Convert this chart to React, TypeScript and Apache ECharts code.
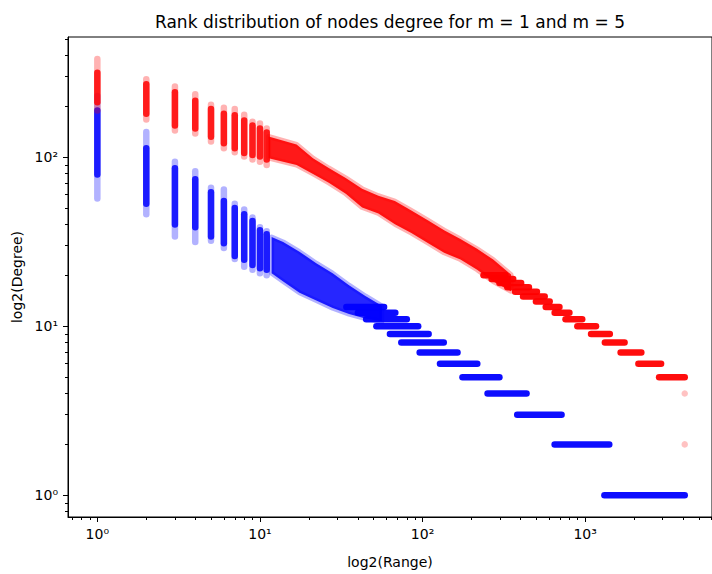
import React, { useEffect, useRef } from "react";
import * as echarts from "echarts";

const titleText = "Rank distribution of nodes degree for m = 1 and m = 5";
const xName = "log2(Range)";
const yName = "log2(Degree)";

const X_MIN = 0.66;
const X_MAX = 6026;
const Y_MIN = 0.744;
const Y_MAX = 514;

const xMajorTicks = [1, 10, 100, 1000];
const xMinorTicks = [0.7, 0.8, 0.9, 2, 3, 4, 5, 6, 7, 8, 9, 20, 30, 40, 50, 60, 70, 80, 90, 200, 300, 400, 500, 600, 700, 800, 900, 2000, 3000, 4000, 5000, 6000];
const yMajorTicks = [1, 10, 100];
const yMinorTicks = [0.8, 0.9, 2, 3, 4, 5, 6, 7, 8, 9, 20, 30, 40, 50, 60, 70, 80, 90, 200, 300, 400, 500];

// vertical streaks at low ranks: [rank, outerLo, coreLo, coreHi, outerHi]
const redStreaks = [
  [1, 189, 211, 316, 381],
  [2, 167, 181, 270, 289],
  [3, 144, 154, 242, 262],
  [4, 138, 148, 216, 236],
  [5, 124, 132, 193, 204],
  [6, 113, 121, 181, 196],
  [7, 107, 113, 177, 193],
  [8, 101, 106, 165, 178],
  [9, 97, 103, 154, 162],
  [10, 94, 101, 148, 158],
  [11, 90, 97, 140, 148],
];
const blueStreaks = [
  [1, 57, 79, 189, 230],
  [2, 46, 53, 113, 141],
  [3, 34, 40, 86, 94],
  [4, 31.5, 38.5, 74, 82.5],
  [5, 32, 34, 62, 66],
  [6, 29, 31, 55, 64.5],
  [7, 25, 26, 50, 53],
  [8, 22.5, 24.7, 46, 49],
  [9, 21.6, 23, 42, 44],
  [10, 20.6, 22, 37, 38.5],
  [11, 20, 21.6, 35, 36.5],
];

// dense band in the middle ranks
const redBandRanks = [11.3, 16.8, 21.2, 26.5, 33.7, 42.5, 53.5, 67.6, 85.3, 107.7, 135.7, 171, 216.5, 272, 350];
const redBandTop = [132.6, 119, 98.7, 86.3, 75.4, 65.1, 59.2, 55, 48.4, 42.4, 37.0, 32.8, 28.7, 24.8, 20.2];
const redBandBottom = [98.7, 89.8, 79.6, 70.5, 60.8, 50.4, 46.5, 40.1, 35.6, 31.1, 27.2, 24.8, 21.6, 18.4, 16.1];

const blueBandRanks = [11.8, 13.9, 17.5, 22.2, 28.0, 35.3, 44.5, 56.2];
const blueBandTop = [33.7, 31.5, 27.6, 23.6, 20.6, 17.5, 15.1, 13.2];
const blueBandBottom = [20.6, 18.4, 15.8, 14.2, 12.8, 11.8, 11.1, 10.7];

// integer-degree plateaus: [degree, rankFrom, rankTo]
const redSteps = [
  [20, 237, 323], [19, 266, 361], [18, 297, 404], [17, 332, 451], [16, 371, 505], [15, 415, 564],
  [14, 498, 605], [13, 572, 695], [12, 649, 800], [11, 757, 959], [10, 895, 1166],
  [9, 1087, 1418], [8, 1322, 1747], [7, 1652, 2215], [6, 2125, 2930], [5, 2849, 4096],
];
const blueSteps = [
  [13, 34, 58], [12, 40, 68], [11, 45, 80], [10, 52, 94], [9, 63, 109], [8, 74, 135],
  [7, 96, 164], [6, 128, 217], [5, 176, 297], [4, 251, 436], [3, 382, 716],
  [2, 649, 1407], [1, 1313, 4096],
];
const redOutliers = [[4096, 4], [4096, 2]];

const FONT = "DejaVu Sans";
const DOT = 6.5;
const SUP = ["⁰", "¹", "²", "³", "⁴"];

function fmt(v: number) {
  const e = Math.round(Math.log10(v));
  return "10" + (SUP[e] ?? "");
}

function streakSeries(data: number[][], faint: string, solid: string) {
  return {
    type: "custom",
    data,
    silent: true,
    encode: { x: 0, y: [1, 2, 3, 4] },
    renderItem: (params: any, api: any) => {
      const r = api.value(0);
      const a = api.coord([r, api.value(1)]);
      const b = api.coord([r, api.value(2)]);
      const c = api.coord([r, api.value(3)]);
      const d = api.coord([r, api.value(4)]);
      return {
        type: "group",
        children: [
          { type: "line", shape: { x1: a[0], y1: a[1], x2: d[0], y2: d[1] }, style: { stroke: faint, lineWidth: DOT, lineCap: "round" } },
          { type: "line", shape: { x1: b[0], y1: b[1], x2: c[0], y2: c[1] }, style: { stroke: solid, lineWidth: DOT, lineCap: "round" } },
        ],
      };
    },
  };
}

function stepSeries(data: number[][], color: string) {
  return {
    type: "custom",
    data,
    silent: true,
    encode: { x: [1, 2], y: 0 },
    renderItem: (params: any, api: any) => {
      const dgr = api.value(0);
      const a = api.coord([api.value(1), dgr]);
      const b = api.coord([api.value(2), dgr]);
      return { type: "line", shape: { x1: a[0], y1: a[1], x2: b[0], y2: b[1] }, style: { stroke: color, lineWidth: DOT, lineCap: "round" } };
    },
  };
}

function bandSeries(ranks: number[], top: number[], bottom: number[], fill: string, edge: string) {
  return {
    type: "custom",
    data: [[ranks[0], top[0]]],
    silent: true,
    renderItem: (params: any, api: any) => {
      const pts: number[][] = [];
      for (let i = 0; i < ranks.length; i++) pts.push(api.coord([ranks[i], top[i]]));
      for (let i = ranks.length - 1; i >= 0; i--) pts.push(api.coord([ranks[i], bottom[i]]));
      return { type: "polygon", shape: { points: pts }, style: { fill, stroke: edge, lineWidth: 5, lineJoin: "round" } };
    },
  };
}

function axisCommon(min: number, max: number) {
  return { type: "log", logBase: 10, min, max, splitLine: { show: false }, minorTick: { show: false } };
}

export default function App() {
  const ref = useRef<HTMLDivElement>(null);
  useEffect(() => {
    if (!ref.current) return;
    const chart = echarts.init(ref.current, null, { renderer: "svg" });
    const labelStyle = { fontFamily: FONT, fontSize: 14, color: "#000" };
    chart.setOption({
      animation: false,
      backgroundColor: "#fff",
      title: {
        text: titleText,
        left: 155,
        top: 13,
        padding: 0,
        textStyle: { fontFamily: FONT, fontSize: 17, fontWeight: "normal", color: "#000" },
      },
      grid: { left: 68, top: 37, width: 654, height: 487, show: true, borderColor: "#000", borderWidth: 1, backgroundColor: "transparent" },
      xAxis: [
        {
          ...axisCommon(X_MIN, X_MAX),
          position: "bottom",
          axisLine: { show: true, lineStyle: { color: "#000", width: 1 } },
          axisTick: { show: true, length: 5, customValues: xMajorTicks, lineStyle: { color: "#000" } },
          axisLabel: { show: true, customValues: xMajorTicks, formatter: fmt, margin: 10, ...labelStyle },
          name: xName,
          nameLocation: "middle",
          nameGap: 38,
          nameTextStyle: labelStyle,
        },
        {
          ...axisCommon(X_MIN, X_MAX),
          position: "bottom",
          axisLine: { show: false },
          axisTick: { show: true, length: 3, customValues: xMinorTicks, lineStyle: { color: "#000" } },
          axisLabel: { show: false },
        },
      ],
      yAxis: [
        {
          ...axisCommon(Y_MIN, Y_MAX),
          position: "left",
          axisLine: { show: true, lineStyle: { color: "#000", width: 1 } },
          axisTick: { show: true, length: 5, customValues: yMajorTicks, lineStyle: { color: "#000" } },
          axisLabel: { show: true, customValues: yMajorTicks, formatter: fmt, margin: 10, ...labelStyle },
          name: yName,
          nameLocation: "middle",
          nameGap: 44,
          nameTextStyle: labelStyle,
        },
        {
          ...axisCommon(Y_MIN, Y_MAX),
          position: "left",
          axisLine: { show: false },
          axisTick: { show: true, length: 3, customValues: yMinorTicks, lineStyle: { color: "#000" } },
          axisLabel: { show: false },
        },
      ],
      series: [
        bandSeries(blueBandRanks, blueBandTop, blueBandBottom, "rgba(0,0,255,0.85)", "rgba(0,0,255,0.3)"),
        streakSeries(blueStreaks, "rgba(0,0,255,0.3)", "rgba(0,0,255,0.85)"),
        stepSeries(blueSteps, "rgba(0,0,255,0.95)"),
        bandSeries(redBandRanks, redBandTop, redBandBottom, "rgba(255,0,0,0.9)", "rgba(255,0,0,0.3)"),
        streakSeries(redStreaks, "rgba(255,0,0,0.3)", "rgba(255,0,0,0.85)"),
        stepSeries(redSteps, "rgba(255,0,0,0.95)"),
        {
          type: "scatter",
          data: redOutliers,
          symbolSize: DOT,
          silent: true,
          itemStyle: { color: "rgba(255,0,0,0.3)" },
        },
      ],
    });
    return () => chart.dispose();
  }, []);
  return <div ref={ref} style={{ position: "fixed", left: 0, top: 0, width: 712, height: 574 }} />;
}
